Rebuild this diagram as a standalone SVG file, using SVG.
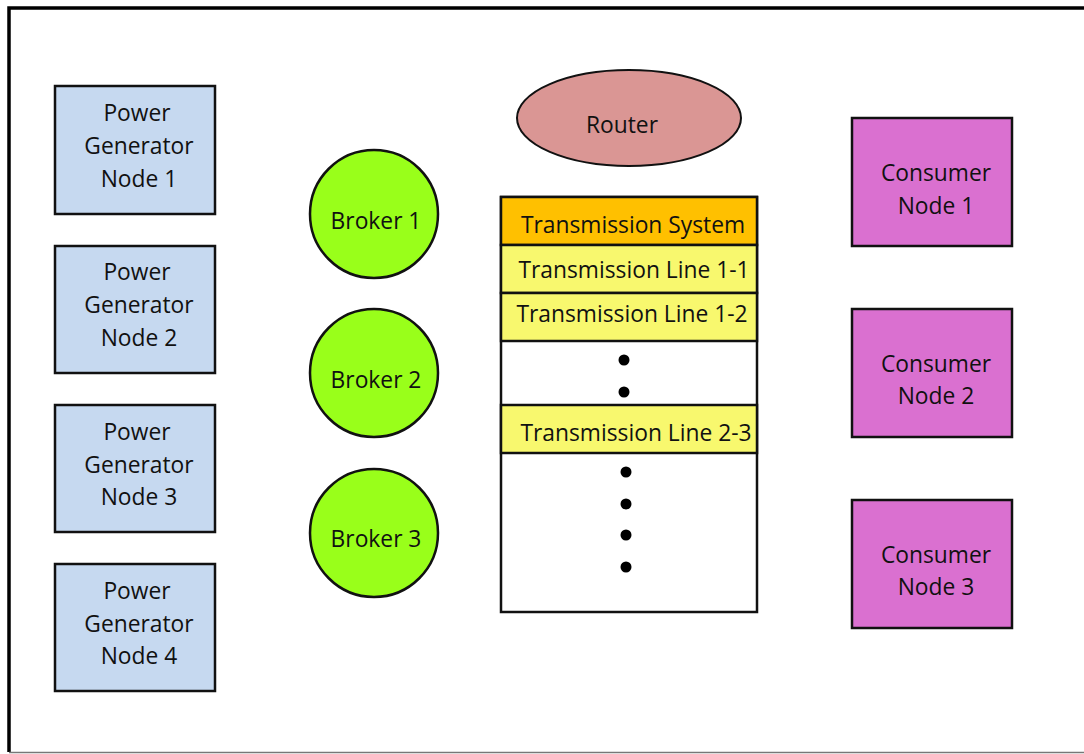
<svg xmlns="http://www.w3.org/2000/svg" width="1084" height="754" viewBox="0 0 1084 754">
<style>
text{font-family:"Open Sans","Liberation Sans",sans-serif;font-size:22.8px;fill:#111;text-anchor:middle}
.gen{fill:#c6d9f0;stroke:#111;stroke-width:2.5}
.con{fill:#da70d0;stroke:#111;stroke-width:2.5}
.brk{fill:#99ff1a;stroke:#111;stroke-width:2.5}
.row{stroke:#111;stroke-width:2.5}
</style>
<rect width="1084" height="754" fill="#fff"/>
<path d="M9 752 V8 H1090" fill="none" stroke="#000" stroke-width="3.5"/>
<line x1="9" y1="752.5" x2="1084" y2="752.5" stroke="#777" stroke-width="1.5"/>
<g id="gen1"><rect class="gen" x="55" y="86" width="160" height="128"/><text x="137" y="121">Power</text><text x="139" y="154">Generator</text><text x="139" y="187">Node 1</text></g>
<g id="gen2"><rect class="gen" x="55" y="246" width="160" height="127"/><text x="137" y="280">Power</text><text x="139" y="313">Generator</text><text x="139" y="346">Node 2</text></g>
<g id="gen3"><rect class="gen" x="55" y="405" width="160" height="127"/><text x="137" y="440">Power</text><text x="139" y="473">Generator</text><text x="139" y="505">Node 3</text></g>
<g id="gen4"><rect class="gen" x="55" y="564" width="160" height="127"/><text x="137" y="599">Power</text><text x="139" y="632">Generator</text><text x="139" y="664">Node 4</text></g>
<g id="broker1"><circle class="brk" cx="374" cy="214" r="64"/><text x="376" y="229">Broker 1</text></g>
<g id="broker2"><circle class="brk" cx="374" cy="373" r="64"/><text x="376" y="388">Broker 2</text></g>
<g id="broker3"><circle class="brk" cx="374" cy="533" r="64"/><text x="376" y="547">Broker 3</text></g>
<g id="router"><ellipse cx="629" cy="118" rx="112" ry="48" fill="#da9694" stroke="#111" stroke-width="2"/><text x="622" y="133">Router</text></g>
<g id="transmission">
<rect class="row" x="501" y="197" width="256" height="415" fill="#fff"/>
<rect class="row" x="501" y="197" width="256" height="48" fill="#ffc000"/>
<rect class="row" x="501" y="245" width="256" height="48" fill="#f8f86e"/>
<rect class="row" x="501" y="293" width="256" height="48" fill="#f8f86e"/>
<rect class="row" x="501" y="405" width="256" height="48" fill="#f8f86e"/>
<text x="633" y="233">Transmission System</text>
<text x="634" y="278">Transmission Line 1-1</text>
<text x="632" y="322">Transmission Line 1-2</text>
<text x="636" y="441">Transmission Line 2-3</text>
<g fill="#000"><circle cx="624" cy="360" r="5.5"/><circle cx="624" cy="392" r="5.5"/><circle cx="626" cy="472" r="5.5"/><circle cx="626" cy="504" r="5.5"/><circle cx="626" cy="535" r="5.5"/><circle cx="626" cy="567" r="5.5"/></g>
</g>
<g id="consumer1"><rect class="con" x="852" y="118" width="160" height="128"/><text x="936" y="181">Consumer</text><text x="936" y="214">Node 1</text></g>
<g id="consumer2"><rect class="con" x="852" y="309" width="160" height="128"/><text x="936" y="372">Consumer</text><text x="936" y="404">Node 2</text></g>
<g id="consumer3"><rect class="con" x="852" y="500" width="160" height="128"/><text x="936" y="563">Consumer</text><text x="936" y="595">Node 3</text></g>
<g id="connectors"></g>
</svg>
